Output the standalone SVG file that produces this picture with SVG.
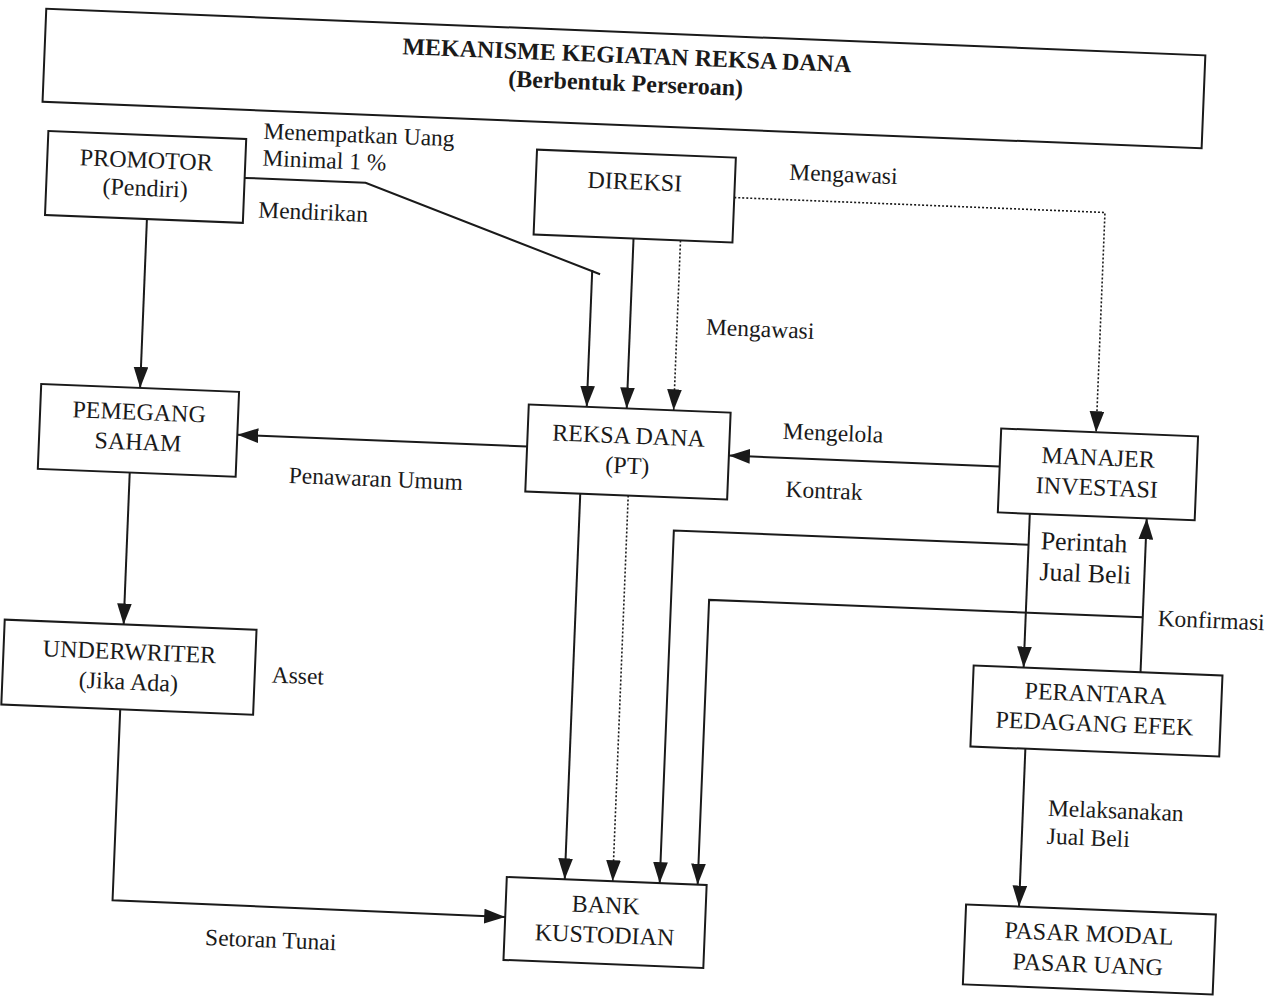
<svg xmlns="http://www.w3.org/2000/svg" width="1278" height="1002" viewBox="0 0 1278 1002">
<style>
  .box { fill: #ffffff; stroke: #1a1a1a; stroke-width: 2; }
  .nt { font-family: "Liberation Serif", "Times New Roman", serif; font-size: 24px; fill: #1a1a1a; text-anchor: middle; }
  .lb { font-family: "Liberation Serif", "Times New Roman", serif; font-size: 23.5px; fill: #1a1a1a; }
  .lb2 { font-family: "Liberation Serif", "Times New Roman", serif; font-size: 26px; fill: #1a1a1a; }
  .tt { font-family: "Liberation Serif", "Times New Roman", serif; font-size: 24px; font-weight: bold; fill: #1a1a1a; text-anchor: middle; }
  .ln { fill: none; stroke: #1a1a1a; stroke-width: 2; }
  .dt { fill: none; stroke: #1a1a1a; stroke-width: 1.6; stroke-dasharray: 2 2; }
</style>
<defs>
  <marker id="ah" markerUnits="userSpaceOnUse" viewBox="0 0 20 14" refX="20" refY="7" markerWidth="21" markerHeight="15" orient="auto">
    <path d="M0,0 L20,7 L0,14 Z" fill="#1a1a1a"/>
  </marker>
</defs>
<rect x="0" y="0" width="1278" height="1002" fill="#ffffff"/>
<g transform="rotate(2.3 639 501)">
  <g id="title">
    <rect class="box" x="27" y="33" width="1160" height="93"/>
    <text class="tt" x="609" y="64">MEKANISME KEGIATAN REKSA DANA</text>
    <text class="tt" x="609" y="92">(Berbentuk Perseroan)</text>
  </g>

  <g id="connectors">
    <!-- Promotor -> Pemegang Saham -->
    <line class="ln" x1="136" y1="239" x2="136" y2="408" marker-end="url(#ah)"/>
    <!-- Pemegang Saham -> Underwriter -->
    <line class="ln" x1="129" y1="493" x2="129" y2="645" marker-end="url(#ah)"/>
    <!-- Underwriter -> Bank Kustodian -->
    <polyline class="ln" points="129,730 129,921 522,922" marker-end="url(#ah)"/>
    <!-- Promotor -> Reksa Dana -->
    <polyline class="ln" points="232,194 353,194 591,276"/>
    <line class="ln" x1="583" y1="272" x2="583" y2="409" marker-end="url(#ah)"/>
    <!-- Direksi -> Reksa Dana -->
    <line class="ln" x1="623" y1="239" x2="623" y2="409" marker-end="url(#ah)"/>
    <line class="dt" x1="670" y1="239" x2="670" y2="409" marker-end="url(#ah)"/>
    <!-- Direksi -> Manajer Investasi (dotted) -->
    <polyline class="dt" points="722,194 1093,194 1093,414" marker-end="url(#ah)"/>
    <!-- Reksa Dana -> Pemegang Saham -->
    <line class="ln" x1="525" y1="451" x2="235" y2="451" marker-end="url(#ah)"/>
    <!-- Manajer Investasi -> Reksa Dana -->
    <line class="ln" x1="998" y1="452" x2="727" y2="452" marker-end="url(#ah)"/>
    <!-- Reksa Dana -> Bank -->
    <line class="ln" x1="580" y1="496" x2="580" y2="882" marker-end="url(#ah)"/>
    <line class="dt" x1="628" y1="496" x2="628" y2="882" marker-end="url(#ah)"/>
    <!-- Manajer -> Perantara (Perintah Jual Beli) -->
    <line class="ln" x1="1030" y1="498" x2="1030" y2="652" marker-end="url(#ah)"/>
    <polyline class="ln" points="1030,529 675,529 675,882" marker-end="url(#ah)"/>
    <!-- Perantara -> Manajer (Konfirmasi) -->
    <line class="ln" x1="1147" y1="652" x2="1147" y2="498" marker-end="url(#ah)"/>
    <polyline class="ln" points="1147,597 713,597 713,882" marker-end="url(#ah)"/>
    <!-- Perantara -> Pasar -->
    <line class="ln" x1="1035" y1="733" x2="1035" y2="891" marker-end="url(#ah)"/>
  </g>

  <g id="labels">
    <text class="lb" x="249" y="154">Menempatkan Uang</text>
    <text class="lb" x="249" y="181">Minimal 1 %</text>
    <text class="lb" x="247" y="233">Mendirikan</text>
    <text class="lb" x="776" y="174">Mengawasi</text>
    <text class="lb" x="699" y="332">Mengawasi</text>
    <text class="lb" x="288" y="497">Penawaran Umum</text>
    <text class="lb" x="780" y="433">Mengelola</text>
    <text class="lb" x="785" y="491">Kontrak</text>
    <text class="lb2" x="1042" y="533">Perintah</text>
    <text class="lb2" x="1042" y="564">Jual Beli</text>
    <text class="lb" x="1162" y="605">Konfirmasi</text>
    <text class="lb" x="279" y="697">Asset</text>
    <text class="lb" x="223" y="962">Setoran Tunai</text>
    <text class="lb" x="1060" y="799">Melaksanakan</text>
    <text class="lb" x="1060" y="827">Jual Beli</text>
  </g>

  <g id="promotor">
    <rect class="box" x="34" y="155" width="198" height="84"/>
    <text class="nt" x="133" y="188">PROMOTOR</text>
    <text class="nt" x="133" y="216">(Pendiri)</text>
  </g>
  <g id="direksi">
    <rect class="box" x="523" y="154" width="199" height="85"/>
    <text class="nt" x="622" y="190">DIREKSI</text>
  </g>
  <g id="pemegang-saham">
    <rect class="box" x="37" y="408" width="198" height="85"/>
    <text class="nt" x="136" y="440">PEMEGANG</text>
    <text class="nt" x="136" y="470">SAHAM</text>
  </g>
  <g id="reksa-dana">
    <rect class="box" x="525" y="409" width="202" height="87"/>
    <text class="nt" x="626" y="444">REKSA DANA</text>
    <text class="nt" x="626" y="474">(PT)</text>
  </g>
  <g id="manajer-investasi">
    <rect class="box" x="998" y="414" width="197" height="84"/>
    <text class="nt" x="1096" y="447">MANAJER</text>
    <text class="nt" x="1096" y="477">INVESTASI</text>
  </g>
  <g id="underwriter">
    <rect class="box" x="10" y="645" width="252" height="85"/>
    <text class="nt" x="136" y="680">UNDERWRITER</text>
    <text class="nt" x="136" y="710">(Jika Ada)</text>
  </g>
  <g id="perantara">
    <rect class="box" x="980" y="652" width="249" height="81"/>
    <text class="nt" x="1103" y="683">PERANTARA</text>
    <text class="nt" x="1103" y="713">PEDAGANG EFEK</text>
  </g>
  <g id="bank-kustodian">
    <rect class="box" x="522" y="882" width="200" height="83"/>
    <text class="nt" x="622" y="914">BANK</text>
    <text class="nt" x="622" y="944">KUSTODIAN</text>
  </g>
  <g id="pasar">
    <rect class="box" x="982" y="891" width="250" height="80"/>
    <text class="nt" x="1106" y="923">PASAR MODAL</text>
    <text class="nt" x="1106" y="954">PASAR UANG</text>
  </g>
</g>
</svg>
